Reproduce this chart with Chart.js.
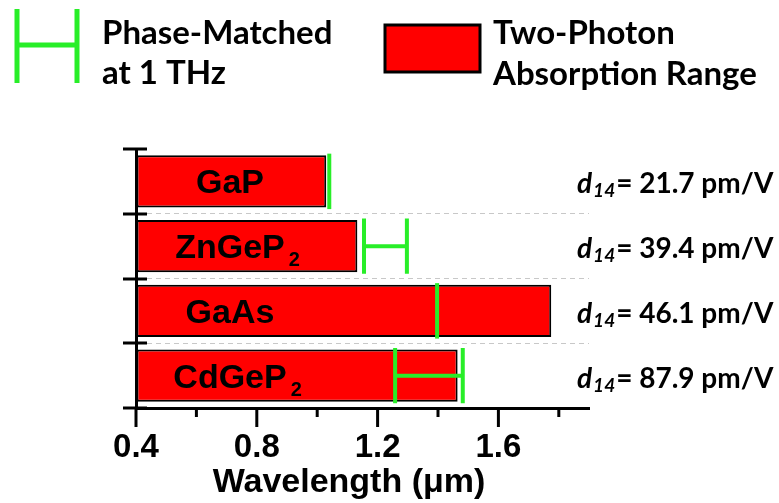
<!DOCTYPE html>
<html>
<head>
<meta charset="utf-8">
<script src="https://cdn.jsdelivr.net/npm/chart.js@4"></script>
<style>
  body { margin: 0; background: #fff; }
  #wrap { width: 779px; height: 503px; }
</style>
</head>
<body>
<div id="wrap"><canvas id="chart"></canvas></div>
<script>
const materials = ['GaP', 'ZnGeP2', 'GaAs', 'CdGeP2'];
const absorptionEdge = [1.03, 1.133, 1.775, 1.465];
const phaseLow = [1.04, 1.155, 1.397, 1.258];
const phaseHigh = [1.04, 1.297, 1.397, 1.482];
const d14Values = ['21.7', '39.4', '46.1', '87.9'];
const legendPhase = ['Phase-Matched', 'at 1 THz'];
const legendTpa = ['Two-Photon', 'Absorption Range'];
const xMin = 0.4, xMax = 1.9, xStep = 0.2;

const GREEN = 'rgb(40,238,40)';
const SANS = '"Liberation Sans", Arial, sans-serif';
const CAL = 'Lato, "Open Sans", sans-serif';

// text with a trailing digit drawn as subscript, main part centred at cx
function drawFormula(ctx, name, cx, cy) {
  const m = name.match(/^(.*?)(\d*)$/);
  ctx.font = 'bold 34px ' + SANS;
  ctx.textAlign = 'left';
  ctx.textBaseline = 'alphabetic';
  const w = ctx.measureText(m[1]).width;
  const base = cy + 12;
  ctx.fillText(m[1], cx - w / 2, base);
  if (m[2]) {
    ctx.font = 'bold 20px ' + SANS;
    ctx.fillText(m[2], cx + w / 2 + 4, base + 8);
  }
}

const overlay = {
  id: 'overlay',
  afterDatasetsDraw(chart) {
    const { ctx, scales: { x } } = chart;
    const meta = chart.getDatasetMeta(0);
    ctx.save();
    ctx.fillStyle = '#000';
    meta.data.forEach((bar, i) => drawFormula(ctx, materials[i], 230, bar.y));

    // phase-matching ranges
    ctx.strokeStyle = GREEN;
    ctx.lineWidth = 4;
    meta.data.forEach((bar, i) => {
      const top = bar.y - bar.height / 2 - 1.5;
      const bot = bar.y + bar.height / 2 + 1.5;
      const x1 = x.getPixelForValue(phaseLow[i]);
      const x2 = x.getPixelForValue(phaseHigh[i]);
      ctx.beginPath();
      ctx.moveTo(x1, top); ctx.lineTo(x1, bot);
      if (x2 !== x1) {
        ctx.moveTo(x2, top); ctx.lineTo(x2, bot);
        ctx.moveTo(x1, bar.y); ctx.lineTo(x2, bar.y);
      }
      ctx.stroke();
    });
    ctx.restore();
  },
  afterDraw(chart) {
    const { ctx, chartArea, scales: { x, y } } = chart;
    ctx.save();
    ctx.strokeStyle = '#000';
    ctx.lineWidth = 3;

    // y axis ticks at category boundaries, crossing the axis
    const ax = chartArea.left - 1;
    for (let i = 0; i <= materials.length; i++) {
      const py = Math.round(y.getPixelForValue(i - 0.5));
      ctx.beginPath();
      ctx.moveTo(ax - 12, py); ctx.lineTo(ax + 12, py);
      ctx.stroke();
    }
    // x axis major / minor ticks
    const by = chartArea.bottom;
    x.ticks.forEach(t => {
      const px = x.getPixelForValue(t.value);
      const major = Math.round(t.value * 10) % 4 === 0;
      ctx.beginPath();
      ctx.moveTo(px, by); ctx.lineTo(px, by + (major ? 19 : 9));
      ctx.stroke();
    });

    // x title
    ctx.fillStyle = '#000';
    ctx.font = 'bold 34px ' + SANS;
    ctx.textAlign = 'center';
    ctx.textBaseline = 'middle';
    ctx.fillText('Wavelength (\u03bcm)', 349, 483);

    // d14 labels
    const meta = chart.getDatasetMeta(0);
    ctx.textAlign = 'left';
    ctx.textBaseline = 'alphabetic';
    meta.data.forEach((bar, i) => {
      const base = bar.y + 12;
      let px = 577;
      ctx.font = 'italic bold 28px ' + CAL;
      ctx.fillText('d', px, base);
      px += ctx.measureText('d').width + 1;
      ctx.font = 'italic bold 19px ' + CAL;
      ctx.fillText('14', px, base + 4);
      px += ctx.measureText('14').width + 1;
      ctx.font = 'bold 28px ' + CAL;
      ctx.fillText('= ' + d14Values[i] + ' pm/V', px, base);
    });

    // legend
    ctx.strokeStyle = GREEN;
    ctx.lineWidth = 5;
    ctx.beginPath();
    ctx.moveTo(17, 9); ctx.lineTo(17, 83);
    ctx.moveTo(77, 9); ctx.lineTo(77, 83);
    ctx.moveTo(17, 45); ctx.lineTo(77, 45);
    ctx.stroke();

    ctx.fillStyle = 'red';
    ctx.fillRect(385, 25, 95, 47);
    ctx.strokeStyle = '#000';
    ctx.lineWidth = 3;
    ctx.strokeRect(385, 25, 95, 47);

    ctx.fillStyle = '#000';
    ctx.font = 'bold 33px ' + CAL;
    ctx.textBaseline = 'middle';
    ctx.fillText(legendPhase[0], 102, 33);
    ctx.fillText(legendPhase[1], 102, 73);
    ctx.fillText(legendTpa[0], 493, 33);
    ctx.fillText(legendTpa[1], 493, 74);
    ctx.restore();
  }
};

new Chart(document.getElementById('chart'), {
  type: 'bar',
  data: {
    labels: materials,
    datasets: [{
      label: 'Two-Photon Absorption Range',
      data: absorptionEdge,
      base: xMin,
      backgroundColor: 'red',
      borderColor: '#000',
      borderWidth: 2,
      borderSkipped: false,
      barPercentage: 0.81,
      categoryPercentage: 1
    }]
  },
  options: {
    indexAxis: 'y',
    responsive: true,
    maintainAspectRatio: false,
    animation: false,
    layout: { padding: { top: 149, left: 136, right: 190, bottom: 0 } },
    plugins: { legend: { display: false }, tooltip: { enabled: false } },
    scales: {
      x: {
        type: 'linear',
        min: xMin,
        max: xMax,
        afterFit: s => { s.height = 95; },
        grid: { drawOnChartArea: false, drawTicks: false },
        border: { color: '#000', width: 3 },
        ticks: {
          stepSize: xStep,
          includeBounds: false,
          autoSkip: false,
          maxRotation: 0,
          padding: 20,
          color: '#000',
          font: { family: SANS, size: 33, weight: 'bold' },
          callback: v => Math.round(v * 10) % 4 === 0 ? v.toFixed(1) : ''
        }
      },
      y: {
        afterFit: s => { s.width = 0; },
        grid: {
          offset: true,
          drawTicks: false,
          lineWidth: 1,
          color: c => (c.index === 0 || c.index === materials.length) ? 'rgba(0,0,0,0)' : '#c8c8c8'
        },
        border: { color: '#000', width: 3, dash: [5, 4] },
        ticks: { display: false }
      }
    }
  },
  plugins: [overlay]
});
</script>
</body>
</html>
